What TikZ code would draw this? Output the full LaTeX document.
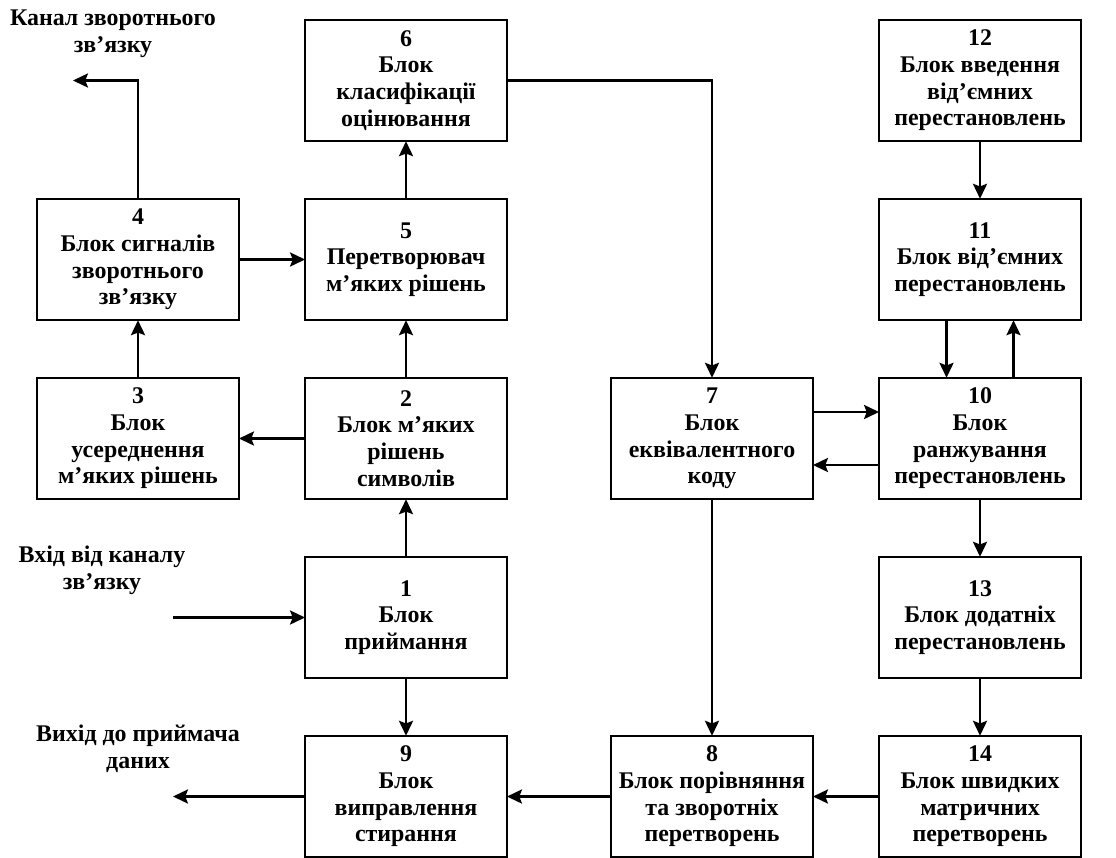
\documentclass[tikz,border=0pt]{standalone}
\usepackage{fontspec}
\setmainfont{Liberation Serif}
\usetikzlibrary{positioning,arrows.meta}

\begin{document}
\begin{tikzpicture}[
  node distance=1.15cm and 1.32cm,
  box/.style={rectangle, draw, line width=1.4pt, outer sep=0pt, minimum width=4.04cm, minimum height=2.43cm, align=center, inner sep=2pt, font=\bfseries\fontsize{13.6}{15.2}\selectfont},
  lbl/.style={align=center, font=\bfseries\fontsize{13.6}{15.2}\selectfont},
  arr/.style={-{Stealth[length=8.5pt, width=8pt, inset=1.5pt]}, line width=1.4pt}
]
\useasboundingbox (0,0) rectangle (22.32,-17.14);
\node[box] (b5) at (8.12,-5.19) {5\\Перетворювач\\м’яких рішень};
\node[box, above=of b5] (b6) {6\\Блок\\класифікації\\оцінювання};
\node[box, left=of b5] (b4) {4\\Блок сигналів\\зворотнього\\зв’язку};
\node[box, below=of b5] (b2) {2\\Блок м’яких\\рішень\\символів};
\node[box, left=of b2] (b3) {3\\Блок\\усереднення\\м’яких рішень};
\node[box, below=of b2] (b1) {1\\Блок\\приймання};
\node[box, below=of b1] (b9) {9\\Блок\\виправлення\\стирання};
\node[box, right=2.08cm of b2] (b7) {7\\Блок\\еквівалентного\\коду};
\node[box, right=of b7] (b10) {10\\Блок\\ранжування\\перестановлень};
\node[box, above=of b10] (b11) {11\\Блок від’ємних\\перестановлень};
\node[box, above=of b11] (b12) {12\\Блок введення\\від’ємних\\перестановлень};
\node[box, below=of b10] (b13) {13\\Блок додатніх\\перестановлень};
\node[box, below=of b13] (b14) {14\\Блок швидких\\матричних\\перетворень};
\node[box, right=2.08cm of b9] (b8) {8\\Блок порівняння\\та зворотніх\\перетворень};

\node[lbl] (fbtxt) at (2.26,-0.68) {Канал зворотнього\\зв’язку};
\node[lbl] (intxt) at (2.04,-11.4) {Вхід від каналу\\зв’язку};
\node[lbl] (outtxt) at (2.76,-14.98) {Вихід до приймача\\даних};
\coordinate (fbout) at ([xshift=-1.3cm]b4.north |- b6.west);
\coordinate[left=2.64cm of b1] (in);
\coordinate[left=2.64cm of b9] (out);

\draw[arr] (b4.north) |- (fbout);
\draw[arr] (b4) -- (b5);
\draw[arr] (b5) -- (b6);
\draw[arr] (b3) -- (b4);
\draw[arr] (b2) -- (b3);
\draw[arr] (b2) -- (b5);
\draw[arr] (b1) -- (b2);
\draw[arr] (in) -- (b1);
\draw[arr] (b1) -- (b9);
\draw[arr] (b9) -- (out);
\draw[arr] (b6.east) -| (b7.north);
\draw[arr] ([yshift=0.53cm]b7.east) -- ([yshift=0.53cm]b10.west);
\draw[arr] ([yshift=-0.53cm]b10.west) -- ([yshift=-0.53cm]b7.east);
\draw[arr] ([xshift=-0.67cm]b11.south) -- ([xshift=-0.67cm]b10.north);
\draw[arr] ([xshift=0.67cm]b10.north) -- ([xshift=0.67cm]b11.south);
\draw[arr] (b12) -- (b11);
\draw[arr] (b10) -- (b13);
\draw[arr] (b13) -- (b14);
\draw[arr] (b14) -- (b8);
\draw[arr] (b8) -- (b9);
\draw[arr] (b7) -- (b8);
\end{tikzpicture}
\end{document}
